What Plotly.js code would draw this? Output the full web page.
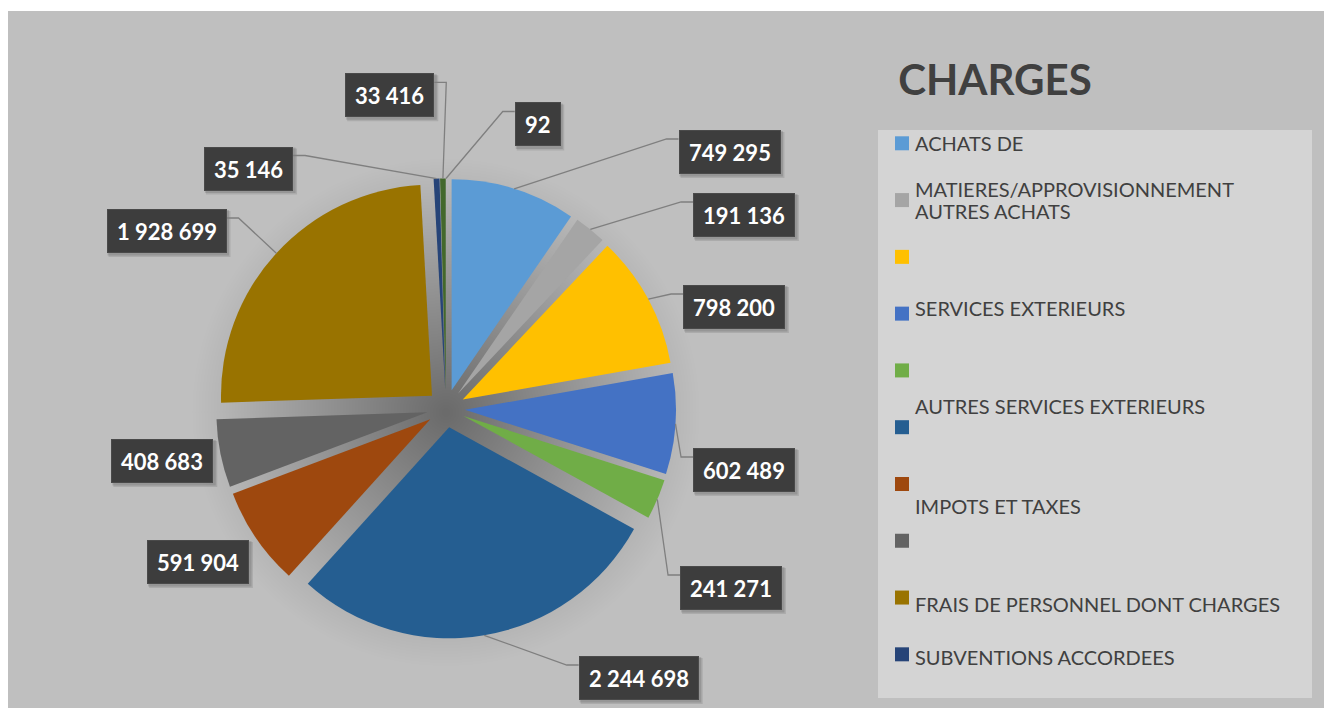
<!DOCTYPE html>
<html><head><meta charset="utf-8">
<script src="https://cdn.plot.ly/plotly-3.0.1.min.js"></script>
<style>html,body{margin:0;padding:0;background:#fff;overflow:hidden}#chart{width:1324px;height:708px}</style>
</head><body><div id="chart"></div>
<script>
// ---------- data ----------
const categories = [
  "ACHATS DE",
  "MATIERES/APPROVISIONNEMENT\nAUTRES ACHATS",
  "",
  "SERVICES EXTERIEURS",
  "",
  "AUTRES SERVICES EXTERIEURS",
  "IMPOTS ET TAXES",
  "",
  "FRAIS DE PERSONNEL DONT CHARGES",
  "SUBVENTIONS ACCORDEES",
  "",
  ""
];
const values = [749295, 191136, 798200, 602489, 241271, 2244698, 591904, 408683, 1928699, 35146, 33416, 92];
const colors = ["#5B9BD5","#A5A5A5","#FFC000","#4472C4","#70AD47","#255E91","#9E480E","#636363","#997300","#264478","#43682B","#7CAFDD"];
const chartTitle = "CHARGES";

// ---------- layout constants (pixels) ----------
const W = 1324, H = 708;
const pieCx = 446, pieCy = 408.5, pieHalf = 230, pullFrac = 0.09;
const labelBoxCenters = [[729.5,152],[744,215],[734,307],[744,470],[731,588],[638.7,678],[198,562],[162.3,461],[166.5,231],[248.5,168.5],[389.7,95.3],[537.5,124.5]];
const legendShown = 10;
const legendTop = 143.3, legendStep = 56.78;
const legendTextDy = [0, 0, 0, -6, 0, -21, 22, 0, 6.7, 2.4];

const px = x => x / W;
const py = y => 1 - y / H;
const fmt = v => String(v).replace(/\B(?=(\d{3})+(?!\d))/g, " ");

const pieLabels = categories.map((c, i) => (c ? c.replace("\n", " ") : "") + " #" + (i + 1));

const trace = {
  type: "pie",
  labels: pieLabels,
  values: values,
  sort: false,
  direction: "clockwise",
  rotation: 0,
  pull: values.map(() => pullFrac),
  marker: {colors: colors, line: {width: 0}},
  textinfo: "none",
  hoverinfo: "label+value+percent",
  showlegend: false,
  domain: {x: [px(pieCx - pieHalf), px(pieCx + pieHalf)], y: [py(pieCy + pieHalf), py(pieCy - pieHalf)]}
};

const shapes = [];
const annotations = [];

// background
shapes.push({type:"rect", xref:"paper", yref:"paper", x0:px(8), x1:px(W), y0:py(H), y1:py(11), fillcolor:"#BFBFBF", line:{width:0}, layer:"below"});
// soft shadow under the pie (many faint discs)
for (let rr = pieHalf + 24; rr > 4; rr -= 3) {
  shapes.push({type:"circle", xref:"paper", yref:"paper", x0:px(pieCx - rr), x1:px(pieCx + rr), y0:py(pieCy + 4 + rr), y1:py(pieCy + 4 - rr), fillcolor:"rgba(0,0,0,0.0028)", line:{width:0}, layer:"below"});
}
// legend box
shapes.push({type:"rect", xref:"paper", yref:"paper", x0:px(878), x1:px(1312), y0:py(698), y1:py(130), fillcolor:"#D4D4D4", line:{width:0}, layer:"below"});

// data labels + leader lines
const canvas = document.createElement("canvas");
const ctx = canvas.getContext("2d");
ctx.font = "bold 22px Lato";
const total = values.reduce((a, b) => a + b, 0);
const rPie = pieHalf / (1 + pullFrac);
let cum = 0;
values.forEach((v, i) => {
  const mid = (cum + v / 2) / total * 2 * Math.PI;
  cum += v;
  const ax = pieCx + rPie * (1 + pullFrac) * Math.sin(mid);
  const ay = pieCy - rPie * (1 + pullFrac) * Math.cos(mid);
  const txt = fmt(v);
  const tw = ctx.measureText(txt).width;
  const [bx, by] = labelBoxCenters[i];
  const hw = (tw + 20) / 2, hh = 22;
  // drop shadow of the label box
  shapes.push({type:"rect", xref:"paper", yref:"paper", x0:px(bx - hw + 2), x1:px(bx + hw + 4), y0:py(by + hh + 4), y1:py(by - hh + 2), fillcolor:"rgba(0,0,0,0.10)", line:{width:0}});
  shapes.push({type:"rect", xref:"paper", yref:"paper", x0:px(bx - hw + 1), x1:px(bx + hw + 2.5), y0:py(by + hh + 2.5), y1:py(by - hh + 1), fillcolor:"rgba(0,0,0,0.12)", line:{width:0}});
  annotations.push({xref:"paper", yref:"paper", x:px(bx), y:py(by), xanchor:"center", yanchor:"middle",
    text:txt, showarrow:false, font:{family:"Lato", size:22, color:"#FFFFFF", weight:700},
    bgcolor:"#3D3D3D", bordercolor:"#4A4A4A", borderpad:8, borderwidth:1, width:tw + 2, height:26});
  const near = ax > bx - hw - 12 && ax < bx + hw + 12 && ay > by - hh - 12 && ay < by + hh + 12;
  if (!near) {
    const ey = by - hh + 9;
    let sx, exx;
    if (ax > bx + hw) { sx = bx + hw; exx = sx + 12; }
    else { sx = bx - hw; exx = sx - 12; }
    shapes.push({type:"path", xref:"paper", yref:"paper",
      path:`M ${px(sx)} ${py(ey)} L ${px(exx)} ${py(ey)} L ${px(ax)} ${py(ay)}`,
      line:{color:"#7F7F7F", width:1.3}});
  }
});

// legend
for (let i = 0; i < legendShown; i++) {
  const my = legendTop + i * legendStep;
  shapes.push({type:"rect", xref:"paper", yref:"paper", x0:px(895), x1:px(909), y0:py(my + 7), y1:py(my - 7), fillcolor:colors[i], line:{width:0}});
  const lines = categories[i] ? categories[i].split("\n") : [];
  lines.forEach((ln, k) => {
    const ty = my + legendTextDy[i] + (k - (lines.length - 1) / 2) * 22.4;
    annotations.push({xref:"paper", yref:"paper", x:px(913), y:py(ty), xanchor:"left", yanchor:"middle",
      text:ln, showarrow:false, font:{family:"Lato", size:20, color:"#404040"}});
  });
}

const layout = {
  width: W, height: H,
  margin: {l:0, r:0, t:0, b:0},
  paper_bgcolor: "#FFFFFF",
  title: {text: chartTitle, x: px(995), xanchor: "center", y: py(80), yanchor: "middle",
    font: {family: "Lato", size: 42, color: "#404040", weight: 700}},
  shapes: shapes,
  annotations: annotations
};

Plotly.newPlot("chart", [trace], layout, {displayModeBar: false, staticPlot: true});
</script>
</body></html>
